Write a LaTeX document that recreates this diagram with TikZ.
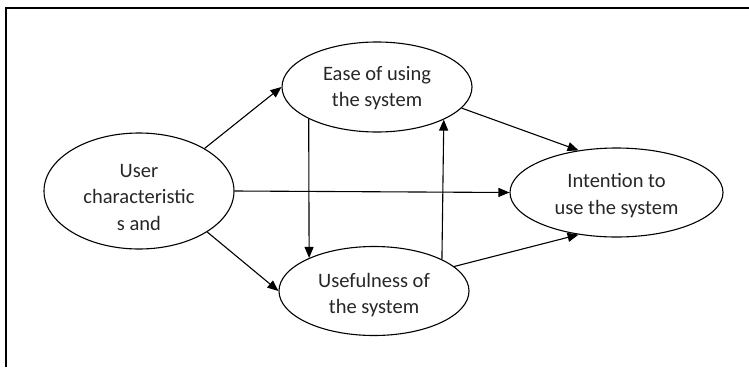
\documentclass[tikz,border=0pt]{standalone}
\usepackage{fontspec}
\setmainfont{Carlito}
\usetikzlibrary{shapes.geometric,arrows.meta}
\begin{document}
\begin{tikzpicture}[x=1pt,y=-1pt,
  oval/.style={draw, line width=1.1pt, ellipse, inner sep=0pt},
  txt/.style={align=center, font=\fontsize{20.5}{26.5}\selectfont, text=black!85},
  arr/.style={draw, line width=1.1pt, -{Triangle[length=11pt,width=9pt]}}]
\useasboundingbox (0,0) rectangle (749,367);
\draw[line width=1.3pt] (6,367) -- (6,8) -- (749,8);
\node[oval, minimum width=190pt, minimum height=116pt] (user) at (139,191) {};
\node[oval, minimum width=190pt, minimum height=90pt] (ease) at (377,87) {};
\node[oval, minimum width=190pt, minimum height=89pt] (useful) at (374,291) {};
\node[oval, minimum width=213pt, minimum height=89pt] (intent) at (616.5,192.5) {};
\node[txt] (usertxt) at ([yshift=-6pt]user.center) {User\\characteristic\\s and};
\node[txt] (easetxt) at ([yshift=-1pt]ease.center) {Ease of using\\the system};
\node[txt] (usefultxt) at ([yshift=-4pt]useful.center) {Usefulness of\\the system};
\node[txt] (intenttxt) at ([yshift=-3pt]intent.center) {Intention to\\use the system};
\draw[arr] (user.33) -- (ease.west);
\draw[arr] (user.-31) -- (useful.west);
\draw[arr] (user.east) -- (intent.west);
\draw[arr] (ease.-155.2) -- (useful.153.4);
\draw[arr] (useful.25.2) -- (ease.-26.8);
\draw[arr] (ease.-14) -- (intent.132);
\draw[arr] (useful.17) -- (intent.-132);
\end{tikzpicture}
\end{document}
